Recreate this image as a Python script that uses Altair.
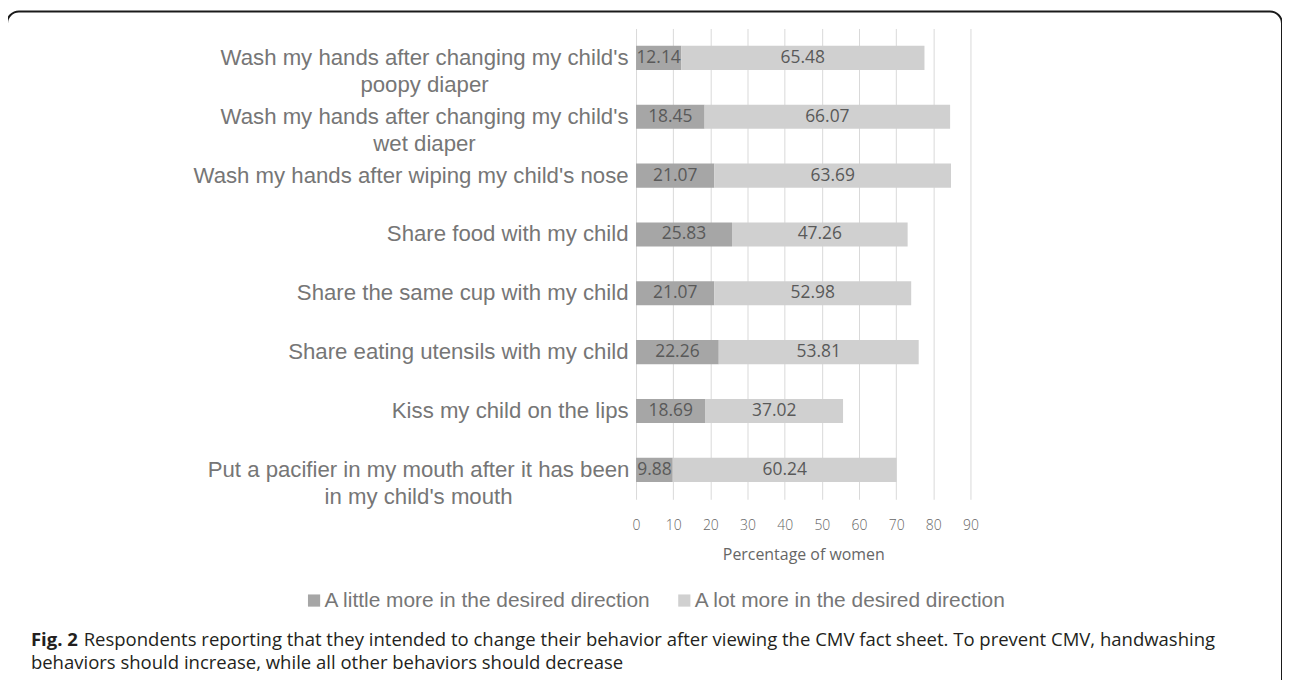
import altair as alt
import pandas as pd

categories = [
    "Wash my hands after changing my child's\npoopy diaper",
    "Wash my hands after changing my child's\nwet diaper",
    "Wash my hands after wiping my child's nose",
    "Share food with my child",
    "Share the same cup with my child",
    "Share eating utensils with my child",
    "Kiss my child on the lips",
    "Put a pacifier in my mouth after it has been\nin my child's mouth",
]
series = ["A little more in the desired direction", "A lot more in the desired direction"]
little_more = [12.14, 18.45, 21.07, 25.83, 21.07, 22.26, 18.69, 9.88]
lot_more = [65.48, 66.07, 63.69, 47.26, 52.98, 53.81, 37.02, 60.24]
x_ticks = [0, 10, 20, 30, 40, 50, 60, 70, 80, 90]
colors = ["#a6a6a6", "#d0d0d0"]

caption_bold = "Fig. 2"
caption_line1 = ("Respondents reporting that they intended to change their behavior after viewing "
                 "the CMV fact sheet. To prevent CMV, handwashing")
caption_line2 = "behaviors should increase, while all other behaviors should decrease"

rows = []
for c, a, b in zip(categories, little_more, lot_more):
    rows.append({"cat": c, "series": series[0], "value": a, "order": 0})
    rows.append({"cat": c, "series": series[1], "value": b, "order": 1})
df = pd.DataFrame(rows)

NUM = "Open Sans, sans-serif"
ARIAL = "Liberation Sans, Arial, sans-serif"

xscale = alt.Scale(domain=[0, 90], nice=False)
xaxis = alt.Axis(values=x_ticks, title="Percentage of women", grid=True, gridColor="#d9d9d9",
                 ticks=False, domain=False, labelFont=NUM, labelFontSize=14,
                 labelOverlap=False, labelFlush=False, labelFontWeight=300, tickCount=10,
                 labelColor="#666666", labelPadding=19, titleFont=NUM, titleFontSize=16,
                 titleFontWeight="normal", titleColor="#666666", titlePadding=15)
yaxis = alt.Axis(
    title=None, ticks=False, domain=False, grid=False,
    labelFont=ARIAL, labelFontSize=22.3, labelColor="#767676", labelLimit=600,
    labelLineHeight=27,
    labelExpr="split(datum.label, '\\n')",
    labelAlign={"condition": {"test": "indexof(datum.value, '\\n') >= 0", "value": "center"}, "value": "right"},
    labelPadding={"condition": [
        {"test": "indexof(datum.value, 'pacifier') >= 0", "value": 219},
        {"test": "indexof(datum.value, '\\n') >= 0", "value": 213},
    ], "value": 8},
)
yscale = alt.Scale(paddingInner=0.59, paddingOuter=0.295)

bars = alt.Chart(df).mark_bar().encode(
    x=alt.X("value:Q", stack="zero", scale=xscale, axis=xaxis),
    y=alt.Y("cat:N", sort=categories, scale=yscale, axis=yaxis),
    color=alt.Color("series:N", scale=alt.Scale(domain=series, range=colors),
                    legend=alt.Legend(title=None, orient="none", direction="horizontal",
                                      legendX=-334, legendY=564, symbolType="square", symbolSize=150,
                                      symbolStrokeWidth=0, labelFont=ARIAL, labelFontSize=21,
                                      labelColor="#767676", labelLimit=600, columnPadding=23,
                                      labelOffset=0, padding=0)),
    order=alt.Order("order:Q"),
)

labels = alt.Chart(df).transform_stack(
    stack="value", as_=["v0", "v1"], groupby=["cat"], sort=[alt.SortField("order")]
).transform_calculate(mid="(datum.v0 + datum.v1) / 2").mark_text(
    font=NUM, fontSize=17.5, color="#595959", baseline="middle", align="center"
).encode(
    x=alt.X("mid:Q", scale=xscale, axis=xaxis),
    y=alt.Y("cat:N", sort=categories, scale=yscale, axis=yaxis),
    text=alt.Text("value:Q", format=".2f"),
)

one = pd.DataFrame({"k": [0]})
frame = alt.Chart(one).mark_rect(fillOpacity=0, stroke="#1a1a1a", strokeWidth=2, cornerRadius=12).encode(
    x=alt.value(-632), x2=alt.value(649), y=alt.value(-17), y2=alt.value(720)
)

cap_df1 = pd.DataFrame({"t": [caption_bold]})
cap_df2 = pd.DataFrame({"t": [caption_line1]})
cap_df3 = pd.DataFrame({"t": [caption_line2]})
CAP = "Open Sans, sans-serif"
CAPSIZE = 18.6
cap1 = alt.Chart(cap_df1).mark_text(font=CAP, fontSize=CAPSIZE, fontWeight="bold", color="#231f20",
                                    align="left", baseline="middle").encode(
    x=alt.value(-608), y=alt.value(614), text="t:N")
cap2 = alt.Chart(cap_df2).mark_text(font=CAP, fontSize=CAPSIZE, color="#231f20",
                                    align="left", baseline="middle").encode(
    x=alt.value(-555), y=alt.value(614), text="t:N")
cap3 = alt.Chart(cap_df3).mark_text(font=CAP, fontSize=CAPSIZE, color="#231f20",
                                    align="left", baseline="middle").encode(
    x=alt.value(-608), y=alt.value(638), text="t:N")

chart = alt.layer(bars, labels, frame, cap1, cap2, cap3).properties(
    width=336, height=473,
    autosize=alt.AutoSizeParams(type="none"),
    padding={"left": 631, "top": 19, "right": 313, "bottom": 180},
).configure_view(stroke=None)

chart.save("out.html", embed_options={"renderer": "svg", "actions": False})
